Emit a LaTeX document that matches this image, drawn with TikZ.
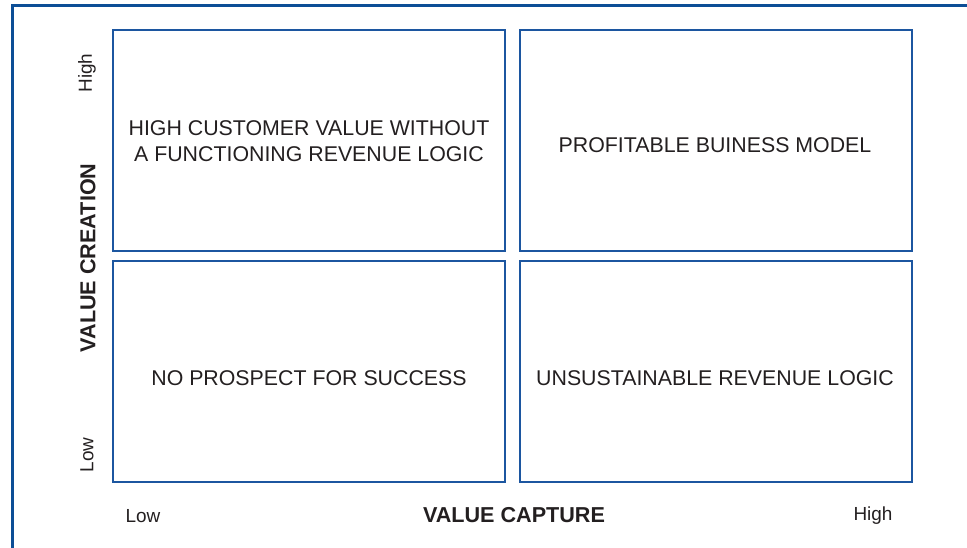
\documentclass[tikz,border=0pt]{standalone}
\usepackage{xcolor}
\usepackage{fontspec}
\setmainfont{Liberation Sans}
\usepackage{tikz}
\usetikzlibrary{positioning}
\definecolor{frameblue}{RGB}{12,78,150}
\definecolor{boxblue}{RGB}{28,86,160}
\definecolor{inkgray}{RGB}{35,31,32}
\tikzset{
  quad/.style = {rectangle, draw=boxblue, line width=1.5pt, inner sep=0pt,
    minimum width=294pt, minimum height=165.75pt},% quadrant
  quadtext/.style = {align=center, text=inkgray,
    font=\fontsize{16}{19}\selectfont},
  axislbl/.style = {text=inkgray, font=\fontsize{16.2}{19}\selectfont\bfseries},
  ticklbl/.style = {text=inkgray, font=\fontsize{14.2}{17}\selectfont}
}
\begin{document}
\begin{tikzpicture}[x=0.75pt,y=-0.75pt]
\useasboundingbox (0,0) rectangle (967,548);
% frame
\draw [frameblue, line width=2.25pt] (967,6) -- (12,6) -- (12,548);
% quadrants
\node [quad] (tl) at (309,140.5) {};
\node [quad] (tr) at (716,140.5) {};
\node [quad] (bl) at (309,371.5) {};
\node [quad] (br) at (716,371.5) {};
\node [quadtext] (tltxt) at (309,141) {HIGH CUSTOMER VALUE WITHOUT\\A FUNCTIONING REVENUE LOGIC};
\node [quadtext] (trtxt) at (715,145) {PROFITABLE BUINESS MODEL};
\node [quadtext] (bltxt) at (309,378) {NO PROSPECT FOR SUCCESS};
\node [quadtext] (brtxt) at (715,378) {UNSUSTAINABLE REVENUE LOGIC};
% axes
\node [axislbl, rotate=90] (vcreate) at (88,258) {VALUE CREATION};
\node [ticklbl, rotate=90] (yhigh) at (87,73) {High};
\node [ticklbl, rotate=90] (ylow) at (87,455) {Low};
\node [axislbl] (vcapture) at (514,515) {VALUE CAPTURE};
\node [ticklbl] (xlow) at (143,516) {Low};
\node [ticklbl] (xhigh) at (873,516) {High};
\end{tikzpicture}
\end{document}
